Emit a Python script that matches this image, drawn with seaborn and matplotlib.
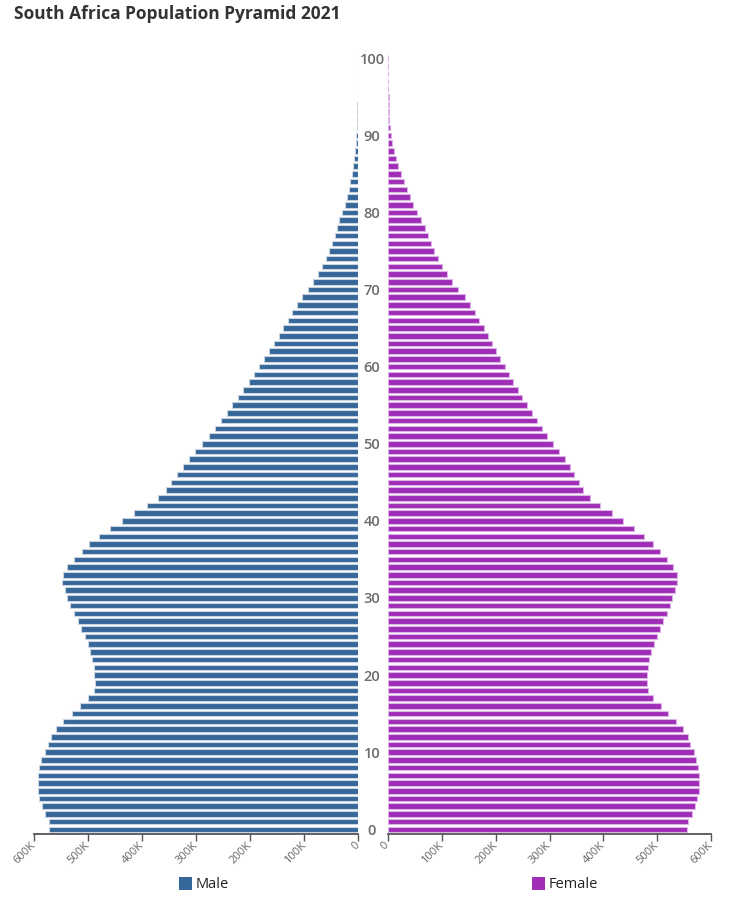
import numpy as np
import pandas as pd
import matplotlib
matplotlib.use("Agg")
import matplotlib.pyplot as plt
import seaborn as sns
from matplotlib.patches import Rectangle

# ---------------- data ----------------
ages = list(range(101))
male_k = [572, 573, 580, 586, 591, 593, 594, 594, 591, 587,
          581, 575, 569, 560, 546, 531, 516, 500, 490, 487,
          489, 490, 493, 496, 501, 507, 514, 520, 526, 533,
          539, 544, 548, 547, 539, 526, 512, 498, 481, 460,
          438, 415, 391, 371, 356, 346, 335, 325, 314, 302,
          289, 277, 265, 254, 244, 233, 223, 213, 203, 193,
          184, 175, 165, 157, 147, 139, 130, 122, 113, 104,
          94, 84, 75, 67, 60, 55, 49, 44, 40, 35,
          30, 25, 21, 17, 15, 12, 9, 7.4, 6, 5,
          4, 3, 2.5, 2, 1.5, 1.2, 0.9, 0.6, 0.4, 0.3, 0.2]
female_k = [555, 556, 564, 570, 574, 577, 578, 578, 576, 572,
            567, 561, 556, 547, 535, 520, 506, 492, 483, 480,
            481, 483, 484, 488, 493, 499, 505, 510, 517, 523,
            528, 533, 537, 536, 529, 517, 504, 491, 475, 456,
            436, 415, 393, 375, 363, 355, 346, 338, 329, 318,
            307, 296, 286, 276, 267, 258, 249, 241, 233, 224,
            217, 209, 201, 194, 186, 178, 170, 162, 153, 143,
            131, 120, 110, 100, 93, 86, 80, 75, 69, 62,
            54, 47, 41, 35, 30, 25, 20, 15, 12, 8.5,
            6, 4, 3, 2.3, 2, 1.5, 1, 0.7, 0.5, 0.3, 0.2]
x_ticks = [0, 100000, 200000, 300000, 400000, 500000, 600000]
x_tick_labels = ["0", "100K", "200K", "300K", "400K", "500K", "600K"]
age_ticks = list(range(0, 101, 10))
title = "South Africa Population Pyramid 2021"
series_names = ["Male", "Female"]

MALE = "#366799"
MALE_EDGE = "#c9d4e2"
FEMALE = "#a02db6"
FEMALE_EDGE = "#dcb3e6"

df = pd.DataFrame({"age": ages,
                   "Male": np.array(male_k) * 1000.0,
                   "Female": np.array(female_k) * 1000.0})

sns.set_style("white")
plt.rcParams["font.family"] = ["Open Sans", "DejaVu Sans"]

W, H = 749, 900
fig = plt.figure(figsize=(W / 100, H / 100), dpi=100)
bottom = (H - 834.3) / H
height = (834.3 - 54.4) / H
ax_m = fig.add_axes([34.3 / W, bottom, 324.0 / W, height])
ax_f = fig.add_axes([387.7 / W, bottom, 323.6 / W, height])

common = dict(y="age", orient="h", native_scale=True, errorbar=None,
              saturation=1, width=0.72, linewidth=0.8)
sns.barplot(data=df, x="Male", color=MALE, edgecolor=MALE_EDGE, ax=ax_m, **common)
sns.barplot(data=df, x="Female", color=FEMALE, edgecolor=FEMALE_EDGE, ax=ax_f, **common)

for ax, xl in ((ax_m, (600000, 0)), (ax_f, (0, 600000))):
    ax.set_xlim(*xl)
    ax.set_ylim(-0.65, 100.5)
    ax.set_xlabel("")
    ax.set_ylabel("")
    for s in ("left", "top", "right"):
        ax.spines[s].set_visible(False)
    ax.spines["bottom"].set_color("#555555")
    ax.spines["bottom"].set_linewidth(1.3)
    ax.set_xticks(x_ticks)
    ax.set_xticklabels(x_tick_labels)
    ax.tick_params(axis="x", bottom=True, direction="out", length=5, width=1,
                   color="#555555", labelsize=8, labelcolor="#666666", pad=2)
    for lab in ax.get_xticklabels():
        lab.set_rotation(45)
        lab.set_ha("right")
        lab.set_va("center")
        lab.set_rotation_mode("anchor")

ax_m.set_yticks([])
ax_f.set_yticks(age_ticks)
ax_f.set_yticklabels([str(a) for a in age_ticks])
ax_f.tick_params(axis="y", left=False, length=0, pad=11.3, labelsize=10.5,
                 labelcolor="#6b6b6b")
for lab in ax_f.get_yticklabels():
    lab.set_ha("center")
    lab.set_fontweight("semibold")

fig.text(14 / W, 1 - 14 / H, title, fontsize=12.5, fontweight="bold",
         color="#333333", ha="left", va="center")

# legend
for name, col, x0 in ((series_names[0], MALE, 179), (series_names[1], FEMALE, 532)):
    fig.add_artist(Rectangle((x0 / W, 1 - 890 / H), 13 / W, 13 / H,
                             transform=fig.transFigure, facecolor=col,
                             edgecolor="none"))
    fig.text((x0 + 17) / W, 1 - 884 / H, name, fontsize=10.5, color="#222222",
             ha="left", va="center")

fig.savefig("out.png", dpi=100)
